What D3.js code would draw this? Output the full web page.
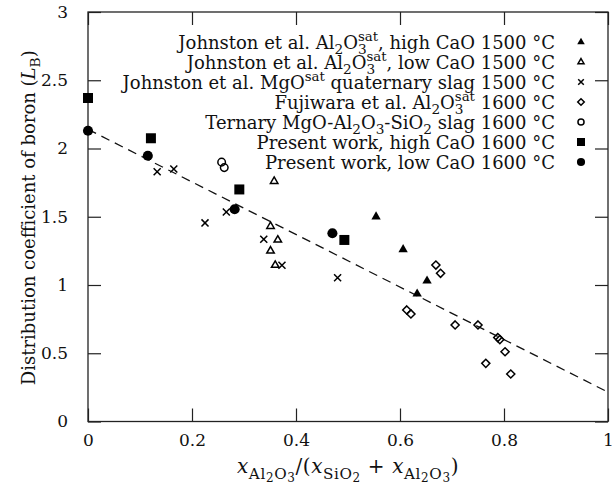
<!DOCTYPE html>
<html>
<head>
<meta charset="utf-8">
<script src="https://cdn.jsdelivr.net/npm/d3@7"></script>
<style>
  body { margin: 0; background: #fff; }
  svg { display: block; }
  text { font-family: 'DejaVu Serif', serif; fill: #111; white-space: pre; }
</style>
</head>
<body>
<svg></svg>
<script>
(function (d3) {
  'use strict'

  // values, [x, L_B]
  const johnstonHighCaO = [[0.554, 1.50], [0.606, 1.26], [0.652, 1.03], [0.633, 0.935]]
  const johnstonLowCaO = [[0.358, 1.76], [0.351, 1.43], [0.365, 1.33], [0.351, 1.25], [0.360, 1.145]]
  const johnstonMgO = [[0.133, 1.83], [0.165, 1.85], [0.225, 1.455], [0.266, 1.535], [0.338, 1.335], [0.373, 1.145], [0.480, 1.053]]
  const fujiwara = [[0.669, 1.146], [0.678, 1.086], [0.613, 0.817], [0.621, 0.788], [0.706, 0.707], [0.750, 0.707],
    [0.788, 0.615], [0.792, 0.600], [0.802, 0.511], [0.765, 0.426], [0.813, 0.348]]
  const ternary = [[0.257, 1.90], [0.262, 1.86]]
  const presentHigh = [[0, 2.37], [0.121, 2.075], [0.291, 1.70], [0.493, 1.33]]
  const presentLow = [[0, 2.13], [0.115, 1.947], [0.282, 1.555], [0.470, 1.379]]
  const fitLine = [[0, 2.14], [1, 0.215]]

  const xTicks = [0, 0.2, 0.4, 0.6, 0.8, 1]
  const xTickLabels = ['0', '0.2', '0.4', '0.6', '0.8', '1']
  const yTicks = [0, 0.5, 1, 1.5, 2, 2.5, 3]
  const yTickLabels = ['0', '0.5', '1', '1.5', '2', '2.5', '3']

  // label pieces: [text, level (0 base, 1 sub, 2 subsub, -1 sup), flags (i italic, s stacked)]
  const legendLabels = [
    [['Johnston et al. Al'], ['2', 1], ['O'], ['3', 1], ['sat', -1, 's'], [', high CaO 1500 °C']],
    [['Johnston et al. Al'], ['2', 1], ['O'], ['3', 1], ['sat', -1, 's'], [', low CaO 1500 °C']],
    [['Johnston et al. MgO'], ['sat', -1], [' quaternary slag 1500 °C']],
    [['Fujiwara et al. Al'], ['2', 1], ['O'], ['3', 1], ['sat', -1, 's'], [' 1600 °C']],
    [['Ternary MgO-Al'], ['2', 1], ['O'], ['3', 1], ['-SiO'], ['2', 1], [' slag 1600 °C']],
    [['Present work, high CaO 1600 °C']],
    [['Present work, low CaO 1600 °C']]
  ]
  const xLabel = [['x', 0, 'i'], ['Al', 1], ['2', 2], ['O', 1], ['3', 2], ['/('], ['x', 0, 'i'], ['SiO', 1], ['2', 2],
    [' + '], ['x', 0, 'i'], ['Al', 1], ['2', 2], ['O', 1], ['3', 2], [')']]
  const yLabel = [['Distribution coefficient of boron ('], ['L', 0, 'i'], ['B', 1], [')']]

  const series = [
    { data: johnstonHighCaO, symbol: d3.symbolTriangle, size: 38, filled: true },
    { data: johnstonLowCaO, symbol: d3.symbolTriangle2, size: 40, filled: false },
    { data: johnstonMgO, symbol: d3.symbolTimes, size: 34, filled: false },
    { data: fujiwara, symbol: d3.symbolDiamond2, size: 42, filled: false },
    { data: ternary, symbol: d3.symbolCircle, size: 45, filled: false },
    { data: presentHigh, symbol: d3.symbolSquare, size: 100, filled: true },
    { data: presentLow, symbol: d3.symbolCircle, size: 80, filled: true }
  ]

  const width = 612
  const height = 491
  const margin = { top: 12, right: 4, bottom: 69.5, left: 88 }
  const innerWidth = width - margin.left - margin.right
  const innerHeight = height - margin.top - margin.bottom

  const svg = d3.select('svg').attr('width', width).attr('height', height)
  const g = svg.append('g').attr('transform', `translate(${margin.left},${margin.top})`)

  const x = d3.scaleLinear().domain([0, 1]).range([0, innerWidth])
  const y = d3.scaleLinear().domain([0, 3]).range([innerHeight, 0])

  function richText (sel, parts, size) {
    const off = { 0: 0, 1: 0.28, 2: 0.45, '-1': -0.42 }
    const scale = { 0: 1, 1: 0.76, 2: 0.6, '-1': 0.74 }
    let prev = 0
    let last = null
    parts.forEach(p => {
      const lvl = p[1] || 0
      const flags = p[2] || ''
      const t = sel.append('tspan').text(p[0]).
        attr('font-size', size * scale[lvl]).
        attr('dy', (off[lvl] - prev) * size)
      if (flags.includes('i')) t.attr('font-style', 'italic')
      if (flags.includes('s') && last) t.attr('dx', -last.node().getComputedTextLength())
      prev = off[lvl]
      last = t
    })
  }

  function styleAxis (a, labels) {
    a.select('.domain').remove()
    a.attr('font-family', null).attr('font-size', 17)
    a.selectAll('.tick line').attr('stroke', '#222').attr('stroke-width', 1.2)
    if (!labels) a.selectAll('.tick text').remove()
  }

  g.append('g').attr('transform', `translate(0,${innerHeight})`).
    call(d3.axisBottom(x).tickValues(xTicks).tickFormat((d, i) => xTickLabels[i]).tickSize(-13).tickPadding(12)).
    call(a => styleAxis(a, true))
  g.append('g').
    call(d3.axisTop(x).tickValues(xTicks).tickSize(-13)).
    call(a => styleAxis(a, false))
  g.append('g').
    call(d3.axisLeft(y).tickValues(yTicks).tickFormat((d, i) => yTickLabels[i]).tickSize(-13).tickPadding(20)).
    call(a => styleAxis(a, true))
  g.append('g').attr('transform', `translate(${innerWidth},0)`).
    call(d3.axisRight(y).tickValues(yTicks).tickSize(-13)).
    call(a => styleAxis(a, false))

  g.append('rect').
    attr('width', innerWidth).
    attr('height', innerHeight).
    attr('fill', 'none').
    attr('stroke', '#222').
    attr('stroke-width', 1.3)

  const line = d3.line().x(d => x(d[0])).y(d => y(d[1]))
  g.append('path').
    attr('d', line(fitLine)).
    attr('fill', 'none').
    attr('stroke', '#111').
    attr('stroke-width', 1.3).
    attr('stroke-dasharray', '9,6')

  series.forEach(s => {
    const sym = d3.symbol().type(s.symbol).size(s.size)
    g.append('g').selectAll('path').data(s.data).
      enter().append('path').
      attr('transform', d => `translate(${x(d[0])},${y(d[1])})`).
      attr('d', sym).
      attr('fill', s.filled ? '#000' : 'none').
      attr('stroke', s.filled ? 'none' : '#000').
      attr('stroke-width', 1.5)
  })

  // key
  const key = svg.append('g')
  series.forEach((s, i) => {
    const ry = 42 + i * 20
    const t = key.append('text').
      attr('x', 555).
      attr('y', ry + 6.5).
      attr('text-anchor', 'end').
      attr('font-size', 18)
    richText(t, legendLabels[i], 18)
    key.append('path').
      attr('transform', `translate(581,${ry})`).
      attr('d', d3.symbol().type(s.symbol).size(s.size * 0.65)).
      attr('fill', s.filled ? '#000' : 'none').
      attr('stroke', s.filled ? 'none' : '#000').
      attr('stroke-width', 1.5)
  })

  const xl = svg.append('text').
    attr('x', margin.left + innerWidth / 2).
    attr('y', 473).
    attr('text-anchor', 'middle').
    attr('letter-spacing', 0.6).
    attr('font-size', 20)
  richText(xl, xLabel, 20)

  const yl = svg.append('text').
    attr('transform', `translate(35,${margin.top + innerHeight / 2 + 1}) rotate(-90)`).
    attr('text-anchor', 'middle').
    attr('font-size', 18)
  richText(yl, yLabel, 18)
}(d3))
</script>
</body>
</html>
